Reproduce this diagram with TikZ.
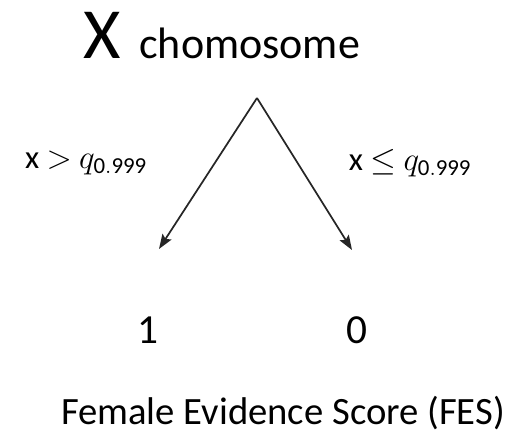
\documentclass[tikz,border=0pt]{standalone}
\usepackage{fontspec}
\setmainfont{Carlito}
\usetikzlibrary{arrows.meta}
\tikzset{
	branch/.style={draw=black!85, line width=1.3pt, -{Stealth[length=11pt, width=8pt, inset=2pt]}},
	cond/.style={anchor=center, inner sep=0pt, font=\fontsize{24.5}{24.5}\selectfont},
	leaf/.style={anchor=center, inner sep=0pt, font=\fontsize{31}{31}\selectfont},
}
\begin{document}
\begin{tikzpicture}[x=0.75pt, y=-0.75pt]
	\useasboundingbox (0,0) rectangle (526,434);
	% Paths, nodes and wires:
	\node[anchor=base west, inner sep=0pt] (title) at (83,59){\fontsize{54}{54}\selectfont X\hspace{14pt}\fontsize{33}{33}\selectfont chomosome};
	\coordinate (top) at (257,98);
	\coordinate (endl) at (159,249);
	\coordinate (endr) at (352,250);
	\draw[branch] (top) -- (endl);
	\draw[branch] (top) -- (endr);
	\node[cond] (condl) at (86,163){x $>$ $q_{\mathrm{0.999}}$};
	\node[cond] (condr) at (410,163){x $\leq$ $q_{\mathrm{0.999}}$};
	\node[leaf] (one) at (148,330){1};
	\node[leaf] (zero) at (357,330){0};
	\node[anchor=base, inner sep=0pt, font=\fontsize{29}{29}\selectfont] (fes) at (283,425){Female Evidence Score (FES)};
\end{tikzpicture}
\end{document}
